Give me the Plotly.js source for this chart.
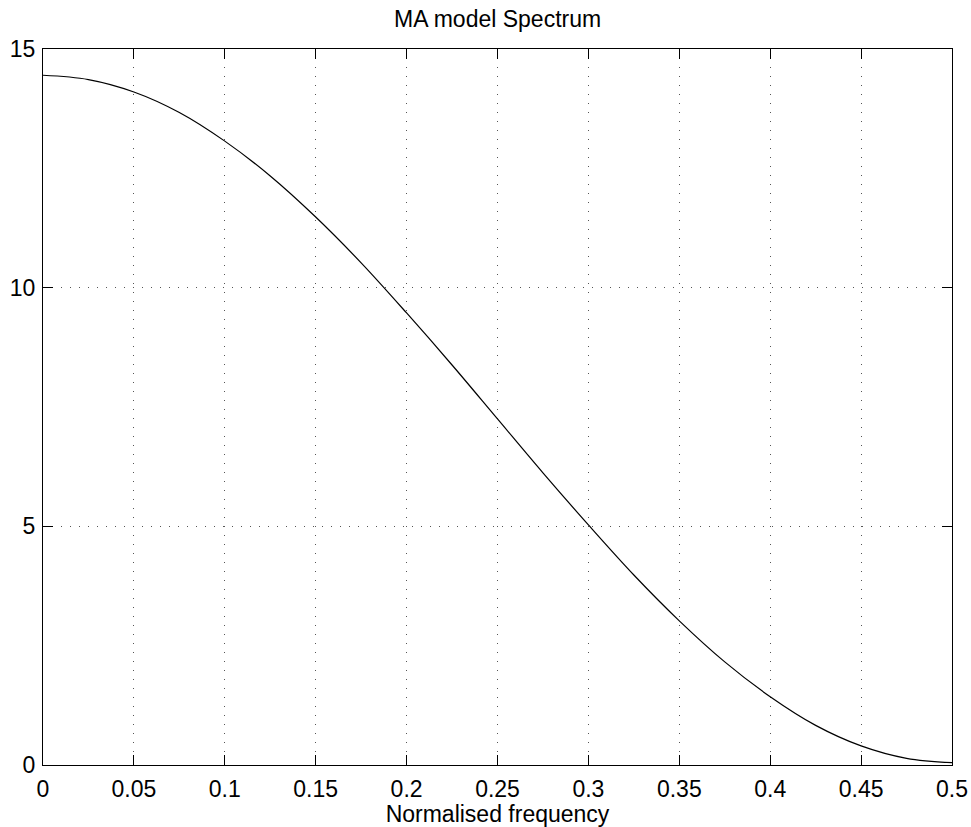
<!DOCTYPE html>
<html>
<head>
<meta charset="utf-8">
<script src="https://cdn.plot.ly/plotly-3.0.1.min.js"></script>
<style>
  html, body { margin: 0; padding: 0; background: #ffffff; }
  #chart { width: 971px; height: 827px; }
</style>
</head>
<body>
<div id="chart"></div>
<script>
// Normalised frequency samples
const freq = [0, 0.025, 0.05, 0.075, 0.1, 0.125, 0.15, 0.175, 0.2, 0.225, 0.25,
              0.275, 0.3, 0.325, 0.35, 0.375, 0.4, 0.425, 0.45, 0.475, 0.5];
// Spectrum values
const spectrum = [14.45, 14.36, 14.10, 13.67, 13.07, 12.34, 11.48, 10.52, 9.47, 8.38, 7.25,
                  6.12, 5.03, 3.98, 3.02, 2.16, 1.43, 0.83, 0.40, 0.14, 0.05];

const xTickVals = [0, 0.05, 0.1, 0.15, 0.2, 0.25, 0.3, 0.35, 0.4, 0.45, 0.5];
const xTickText = ["0", "0.05", "0.1", "0.15", "0.2", "0.25", "0.3", "0.35", "0.4", "0.45", "0.5"];
const yTickVals = [0, 5, 10, 15];
const yTickText = ["0", "5", "10", "15"];

const titleText = "MA model Spectrum";
const xTitleText = "Normalised frequency";

const FONT = "Liberation Sans, Arial, Helvetica, sans-serif";

const trace = {
  x: freq,
  y: spectrum,
  type: "scatter",
  mode: "lines",
  line: { color: "#000000", width: 1.2, shape: "spline", smoothing: 1 },
  hoverinfo: "skip",
  showlegend: false
};

const axisCommon = {
  showline: true,
  linecolor: "#000000",
  linewidth: 1,
  mirror: "ticks",
  ticks: "inside",
  ticklen: 10,
  tickwidth: 1,
  tickcolor: "#000000",
  showgrid: true,
  gridcolor: "#555555",
  gridwidth: 1,
  griddash: "1px,8px",
  zeroline: false,
  tickfont: { family: FONT, size: 23, color: "#000000" },
  fixedrange: true
};

const layout = {
  width: 971,
  height: 827,
  margin: { l: 43, r: 19, t: 49, b: 62, pad: 0 },
  paper_bgcolor: "#ffffff",
  plot_bgcolor: "#ffffff",
  font: { family: FONT, color: "#000000" },
  title: {
    text: titleText,
    font: { family: FONT, size: 23, color: "#000000" },
    x: 0.5125,
    xanchor: "center",
    y: 0.977,
    yanchor: "middle"
  },
  xaxis: Object.assign({}, axisCommon, {
    range: [0, 0.5],
    tickmode: "array",
    tickvals: xTickVals,
    ticktext: xTickText,
    ticklabelstandoff: 3,
    title: { text: xTitleText, font: { family: FONT, size: 23, color: "#000000" }, standoff: 0 }
  }),
  yaxis: Object.assign({}, axisCommon, {
    range: [0, 15],
    tickmode: "array",
    tickvals: yTickVals,
    ticktext: yTickText,
    ticklabelstandoff: 2
  })
};

Plotly.newPlot("chart", [trace], layout, { displayModeBar: false, staticPlot: true });
</script>
</body>
</html>
